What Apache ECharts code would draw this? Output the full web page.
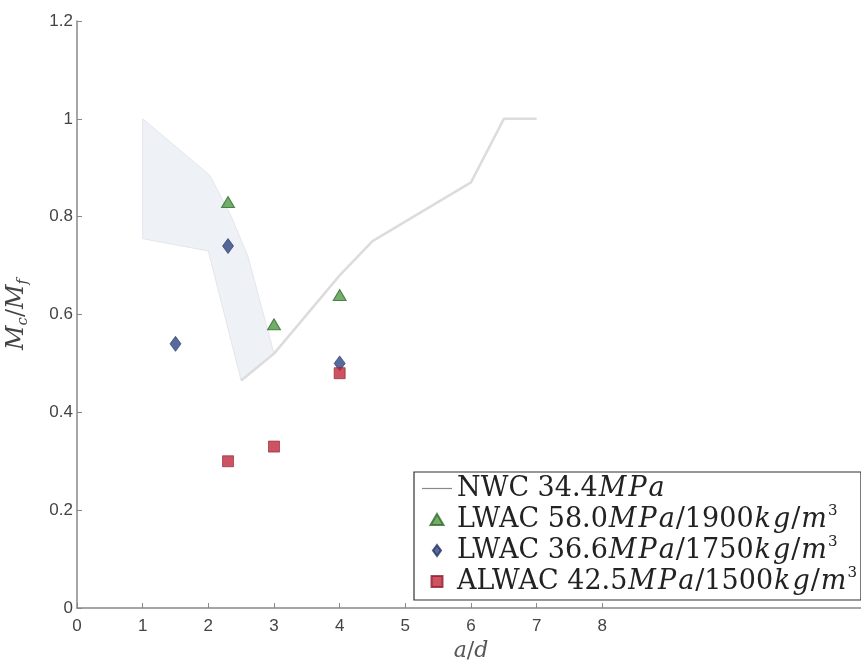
<!DOCTYPE html>
<html>
<head>
<meta charset="utf-8">
<script src="https://cdn.jsdelivr.net/npm/echarts@6/dist/echarts.min.js"></script>
<style>
html,body{margin:0;padding:0;background:#fff;}
#chart{width:861px;height:666px;}
</style>
</head>
<body>
<div id="chart"></div>
<script>
// Shaded NWC band polygon (a/d, Mc/Mf)
var bandX = [1.0, 2.02, 2.35, 2.6, 3.0, 2.5, 2.0, 1.0];
var bandY = [1.0, 0.885, 0.80, 0.72, 0.52, 0.465, 0.73, 0.755];
// NWC 34.4MPa line
var nwcX = [2.5, 3.0, 4.0, 4.5, 6.0, 6.5, 7.0];
var nwcY = [0.465, 0.52, 0.68, 0.75, 0.87, 1.0, 1.0];
// LWAC 58.0MPa/1900
var lwac58X = [2.3, 3.0, 4.0];
var lwac58Y = [0.83, 0.58, 0.64];
// LWAC 36.6MPa/1750
var lwac36X = [1.5, 2.3, 4.0];
var lwac36Y = [0.54, 0.74, 0.50];
// ALWAC 42.5MPa/1500
var alwacX = [2.3, 3.0, 4.0];
var alwacY = [0.30, 0.33, 0.48];
// tick labels
var xTicks = [0, 1, 2, 3, 4, 5, 6, 7, 8];
var yTicks = [0, 0.2, 0.4, 0.6, 0.8, 1, 1.2];

var names = ['NWC 34.4MPa', 'LWAC 58.0MPa/1900kg/m3', 'LWAC 36.6MPa/1750kg/m3', 'ALWAC 42.5MPa/1500kg/m3'];
function it(s) { return s.split('').map(function (c) { return '{i|' + c + '}'; }).join(''); }
var legendRich = {};
legendRich[names[0]] = '{r|NWC 34.4}' + it('MPa');
legendRich[names[1]] = '{r|LWAC 58.0}' + it('MPa') + '{r|/1900}' + it('kg') + '{r|/}' + it('m') + '{s|3}';
legendRich[names[2]] = '{r|LWAC 36.6}' + it('MPa') + '{r|/1750}' + it('kg') + '{r|/}' + it('m') + '{s|3}';
legendRich[names[3]] = '{r|ALWAC 42.5}' + it('MPa') + '{r|/1500}' + it('kg') + '{r|/}' + it('m') + '{s|3}';

function zip(xs, ys) { return xs.map(function (x, i) { return [x, ys[i]]; }); }

var serif = '"DejaVu Serif", "Liberation Serif", serif';
var sans = '"Liberation Sans", Arial, sans-serif';
var chart = echarts.init(document.getElementById('chart'), null, {renderer: 'canvas'});
chart.setOption({
  animation: false,
  backgroundColor: '#ffffff',
  grid: {left: 77, top: 21, width: 788, height: 587, containLabel: false, outerBoundsMode: 'none'},
  xAxis: {
    type: 'value', min: 0, max: 12, interval: 1,
    name: '{i|a}{r|/}{i|d}', nameLocation: 'middle', nameGap: 32,
    nameTextStyle: {rich: {
      i: {fontFamily: serif, fontStyle: 'italic', fontSize: 22, color: '#555'},
      r: {fontFamily: serif, fontSize: 22, color: '#555'}
    }},
    axisLine: {show: true, onZero: false, lineStyle: {color: '#888', width: 1.5}},
    axisTick: {show: true, inside: true, length: 5, customValues: xTicks, lineStyle: {color: '#888'}},
    axisLabel: {customValues: xTicks, margin: 10, color: '#444', fontSize: 17, fontFamily: sans},
    splitLine: {show: false}
  },
  yAxis: {
    type: 'value', min: 0, max: 1.2, interval: 0.2,
    name: '{i|M}{sb|c}{r|/}{i|M}{sb|f}', nameLocation: 'middle', nameGap: 46, nameRotate: 90,
    nameTextStyle: {rich: {
      i: {fontFamily: serif, fontStyle: 'italic', fontSize: 24, color: '#444', lineHeight: 28},
      r: {fontFamily: serif, fontSize: 24, color: '#444', lineHeight: 28},
      sb: {fontFamily: serif, fontStyle: 'italic', fontSize: 15, color: '#444', verticalAlign: 'bottom', lineHeight: 14}
    }},
    axisLine: {show: true, onZero: false, lineStyle: {color: '#888', width: 1.5}},
    axisTick: {show: true, inside: true, length: 5, lineStyle: {color: '#888'}},
    axisLabel: {margin: 4, color: '#444', fontSize: 17, fontFamily: sans,
      formatter: function (v) { return String(Math.round(v * 10) / 10); }},
    splitLine: {show: false}
  },
  legend: {
    orient: 'vertical', left: 414, top: 472,
    data: [
      {name: names[0], icon: 'path://M0,0L30,0L30,1.2L0,1.2Z', itemStyle: {color: '#888'}},
      {name: names[1], icon: 'path://M5,0L10,8.5L0,8.5Z'},
      {name: names[2], icon: 'path://M4,0L8,5.5L4,11L0,5.5Z'},
      {name: names[3], icon: 'path://M0,0L9,0L9,9L0,9Z'}
    ],
    backgroundColor: '#fff',
    borderColor: '#333', borderWidth: 1.2,
    padding: [3, 4, 5, 8],
    itemGap: 2, itemWidth: 30, itemHeight: 11,
    symbolKeepAspect: true,
    formatter: function (n) { return legendRich[n]; },
    textStyle: {
      color: '#222',
      rich: {
        r: {fontFamily: serif, fontSize: 27, color: '#222', lineHeight: 31},
        i: {fontFamily: serif, fontStyle: 'italic', fontSize: 27, color: '#222', lineHeight: 31, padding: [0, 1, 0, 1]},
        s: {fontFamily: serif, fontSize: 15, color: '#222', verticalAlign: 'top', lineHeight: 15}
      }
    }
  },
  series: [
    {
      type: 'custom', name: 'band', silent: true, z: 1,
      data: [[bandX[0], bandY[0]]],
      renderItem: function (params, api) {
        var pts = bandX.map(function (x, i) { return api.coord([x, bandY[i]]); });
        return {type: 'polygon', shape: {points: pts},
          style: {fill: '#eef1f5', stroke: '#e4e6ea', lineWidth: 1}};
      }
    },
    {
      type: 'line', name: names[0], data: zip(nwcX, nwcY), symbol: 'none', z: 2,
      lineStyle: {color: '#dcdcdc', width: 2.5}, itemStyle: {color: '#888'}
    },
    {
      type: 'scatter', name: names[1], data: zip(lwac58X, lwac58Y), symbol: 'triangle', symbolSize: [13, 11], z: 3,
      itemStyle: {color: '#4f9945', borderColor: '#2f6a2c', borderWidth: 1}
    },
    {
      type: 'scatter', name: names[2], data: zip(lwac36X, lwac36Y), symbol: 'diamond', symbolSize: [11, 15], z: 3,
      itemStyle: {color: '#2e4484', borderColor: '#22335f', borderWidth: 0.8}
    },
    {
      type: 'scatter', name: names[3], data: zip(alwacX, alwacY), symbol: 'rect', symbolSize: [11, 11], z: 4,
      itemStyle: {color: '#c0283b', borderColor: '#8e1e2c', borderWidth: 0.8}
    }
  ]
});
</script>
</body>
</html>
